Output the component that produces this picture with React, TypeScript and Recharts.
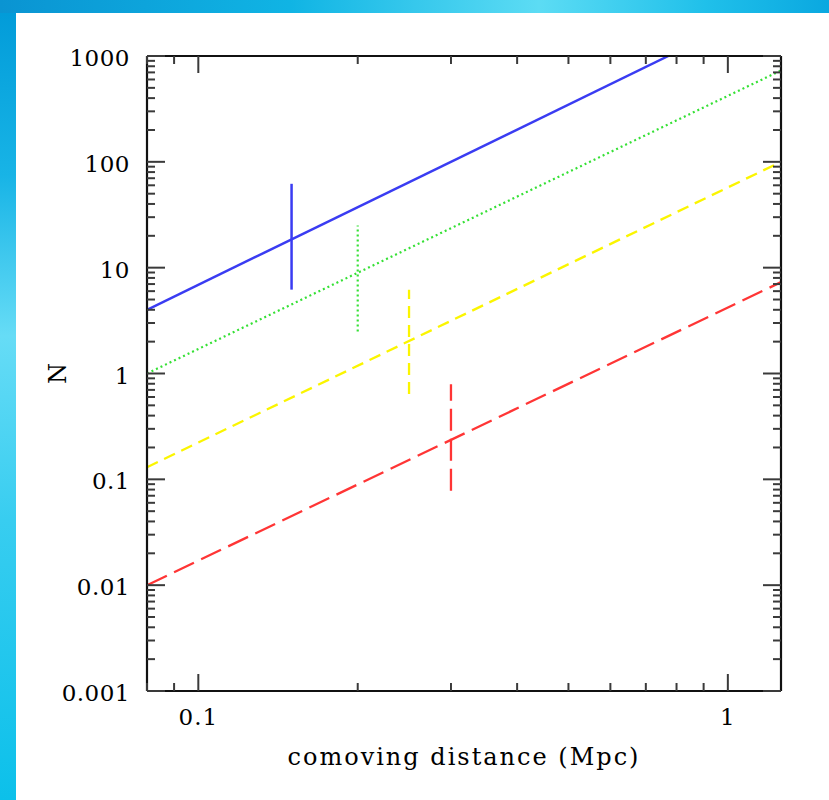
import React from "react";
import { LineChart, Line, XAxis, YAxis, Label } from "recharts";

// ---- data ----
const blueX = [0.08, 0.772];
const blueN = [4, 1000];
const greenX = [0.08, 1.26];
const greenN = [1, 730];
const yellowX = [0.08, 1.26];
const yellowN = [0.13, 100];
const redX = [0.08, 1.26];
const redN = [0.01, 7.3];

// vertical bars (x, low, high) for blue, green, yellow, red
const barX = [0.15, 0.2, 0.25, 0.3];
const barLow = [6.2, 2.5, 0.64, 0.078];
const barHigh = [62, 25, 6.2, 0.79];

// axes
const xDomain = [0.08, 1.26];
const yDomain = [0.001, 1000];
const xTicks = [0.08, 0.09, 0.1, 0.2, 0.3, 0.4, 0.5, 0.6, 0.7, 0.8, 0.9, 1];
const xMajor = [0.1, 1];
const xMajorLabels = ["0.1", "1"];
const yDecades = [0.001, 0.01, 0.1, 1, 10, 100];
const yMult = [1, 2, 3, 4, 5, 6, 7, 8, 9];
const yMajor = [0.001, 0.01, 0.1, 1, 10, 100, 1000];
const yMajorLabels = ["0.001", "0.01", "0.1", "1", "10", "100", "1000"];

const yTicks: number[] = [];
yDecades.forEach((d) => yMult.forEach((m) => yTicks.push(Number((d * m).toPrecision(6)))));
yTicks.push(1000);

const toRows = (xs: number[], ns: number[]) => xs.map((x, i) => ({ x, n: ns[i] }));

const series = [
  { key: "blue", rows: toRows(blueX, blueN), color: "#3a3cf2", dash: undefined, w: 2.5 },
  { key: "green", rows: toRows(greenX, greenN), color: "#35e035", dash: "2 3", w: 2.2 },
  { key: "yellow", rows: toRows(yellowX, yellowN), color: "#fbf500", dash: "12 7", w: 2.3 },
  { key: "red", rows: toRows(redX, redN), color: "#ff3535", dash: "22 8", w: 2.3 },
];

const isMajor = (list: number[], v: number) => list.findIndex((m) => Math.abs(m - v) / m < 1e-6);

const FONT = "'DejaVu Serif', serif";
const TICK_COLOR = "#3a3a3a";

const makeXTick = (side: "bottom" | "top") => (props: any) => {
  const { x, y, payload } = props;
  const idx = isMajor(xMajor, payload.value);
  const len = idx >= 0 ? 17 : 8;
  const dir = side === "bottom" ? -1 : 1;
  return (
    <g>
      <line x1={x} y1={y} x2={x} y2={y + dir * len} stroke={TICK_COLOR} strokeWidth={2} />
      {side === "bottom" && idx >= 0 ? (
        <text x={x} y={y + 26} textAnchor="middle" dominantBaseline="central" fontFamily={FONT} fontSize={23} letterSpacing={1} fill="#000">
          {xMajorLabels[idx]}
        </text>
      ) : null}
    </g>
  );
};

const makeYTick = (side: "left" | "right") => (props: any) => {
  const { x, y, payload } = props;
  const idx = isMajor(yMajor, payload.value);
  const len = idx >= 0 ? 18 : 8;
  const dir = side === "left" ? 1 : -1;
  return (
    <g>
      <line x1={x} y1={y} x2={x + dir * len} y2={y} stroke={TICK_COLOR} strokeWidth={2} />
      {side === "left" && idx >= 0 ? (
        <text x={x - 17} y={y + 2} textAnchor="end" dominantBaseline="central" fontFamily={FONT} fontSize={23} letterSpacing={0.5} fill="#000">
          {yMajorLabels[idx]}
        </text>
      ) : null}
    </g>
  );
};

const axisLine = { stroke: "#111", strokeWidth: 2.2 };

export default function App() {
  return (
    <div style={{ position: "absolute", left: 0, top: 0, width: 829, height: 800, background: "#ffffff", overflow: "hidden" }}>
      <div
        style={{
          position: "absolute", left: 0, top: 0, width: 16, height: 800,
          background: "linear-gradient(to bottom, #009ad8 0%, #18b4e6 22%, #66dcf6 42%, #38cdf0 65%, #0cc0ea 100%)",
        }}
      />
      <div
        style={{
          position: "absolute", left: 0, top: 0, width: 829, height: 13,
          background: "linear-gradient(to right, #0a94d2 0%, #10b4e4 35%, #5cdcf4 65%, #20c0ea 85%, #0aa8e0 100%)",
        }}
      />
      <div style={{ position: "absolute", left: 0, top: 0 }}>
        <LineChart width={829} height={800} margin={{ top: 46, right: 38, bottom: 49, left: 47 }}>
          <XAxis
            xAxisId="bottom"
            dataKey="x"
            type="number"
            scale="log"
            domain={xDomain}
            allowDataOverflow
            ticks={xTicks}
            interval={0}
            height={60}
            tickSize={0}
            tickMargin={0}
            tickLine={false}
            axisLine={axisLine}
            tick={makeXTick("bottom")}
          >
            <Label
              content={(p: any) => {
                const vb = p.viewBox || { x: 147, y: 691, width: 634 };
                return (
                  <text x={vb.x + vb.width / 2} y={vb.y + 66} textAnchor="middle" dominantBaseline="central" fontFamily={FONT} fontSize={24} letterSpacing={2} fill="#000">
                    comoving distance (Mpc)
                  </text>
                );
              }}
            />
          </XAxis>
          <XAxis
            xAxisId="top"
            orientation="top"
            dataKey="x"
            type="number"
            scale="log"
            domain={xDomain}
            allowDataOverflow
            ticks={xTicks}
            interval={0}
            height={10}
            tickSize={0}
            tickMargin={0}
            tickLine={false}
            axisLine={axisLine}
            tick={makeXTick("top")}
          />
          <YAxis
            yAxisId="left"
            type="number"
            scale="log"
            domain={yDomain}
            allowDataOverflow
            ticks={yTicks}
            interval={0}
            width={100}
            tickSize={0}
            tickMargin={0}
            tickLine={false}
            axisLine={axisLine}
            tick={makeYTick("left")}
          >
            <Label
              content={(p: any) => {
                const vb = p.viewBox || { x: 47, y: 56, height: 635 };
                const cx = vb.x + 11;
                const cy = vb.y + vb.height / 2;
                return (
                  <text x={cx} y={cy} transform={`rotate(-90 ${cx} ${cy})`} textAnchor="middle" dominantBaseline="central" fontFamily={FONT} fontSize={24} fill="#000">
                    N
                  </text>
                );
              }}
            />
          </YAxis>
          <YAxis
            yAxisId="right"
            orientation="right"
            type="number"
            scale="log"
            domain={yDomain}
            allowDataOverflow
            ticks={yTicks}
            interval={0}
            width={10}
            tickSize={0}
            tickMargin={0}
            tickLine={false}
            axisLine={axisLine}
            tick={makeYTick("right")}
          />
          {series.map((s) => (
            <Line
              key={s.key}
              xAxisId="bottom"
              yAxisId="left"
              data={s.rows}
              dataKey="n"
              type="linear"
              stroke={s.color}
              strokeWidth={s.w}
              strokeDasharray={s.dash}
              dot={false}
              activeDot={false}
              isAnimationActive={false}
            />
          ))}
          {series.map((s, i) => (
            <Line
              key={s.key + "-bar"}
              xAxisId="bottom"
              yAxisId="left"
              data={[
                { x: barX[i], n: barLow[i] },
                { x: barX[i], n: barHigh[i] },
              ]}
              dataKey="n"
              type="linear"
              stroke={s.color}
              strokeWidth={s.w}
              strokeDasharray={s.dash}
              dot={false}
              activeDot={false}
              isAnimationActive={false}
            />
          ))}
        </LineChart>
      </div>
    </div>
  );
}
